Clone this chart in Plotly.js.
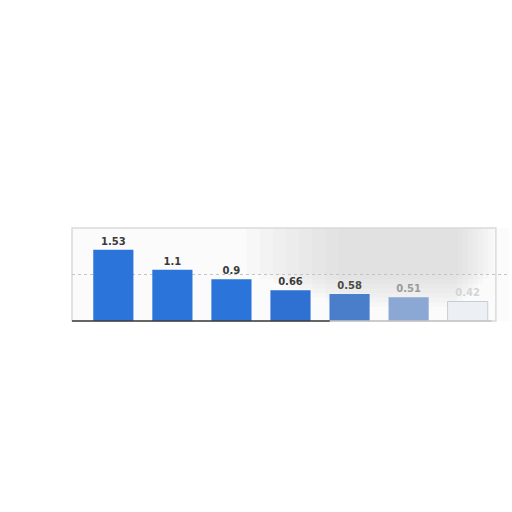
<!DOCTYPE html>
<html>
<head>
<meta charset="utf-8">
<script src="https://cdn.plot.ly/plotly-3.0.1.min.js"></script>
<style>
  html, body { margin: 0; padding: 0; background: #ffffff; }
  #chart { width: 512px; height: 512px; }
</style>
</head>
<body>
<div id="chart"></div>
<script>
// Values
let categories = ["A", "B", "C", "D", "E", "F", "G"];
let values = [1.53, 1.1, 0.9, 0.66, 0.58, 0.51, 0.42];
let value_labels = ["1.53", "1.1", "0.9", "0.66", "0.58", "0.51", "0.42"];

// The right side of the picture is washed out
let bar_cols = ["#2a74da", "#2a74da", "#2a74da", "#2e71d2", "#4a7dca", "#8ba7d4", "#eceff4"];
let label_cols = ["#3a3a3a", "#3a3a3a", "#3a3a3a", "#3a3a3a", "#4a4a4a", "#9a9a9a", "#d4d4d4"];

let data = [{
  type: "bar",
  x: categories,
  y: values,
  text: value_labels,
  textposition: "outside",
  cliponaxis: false,
  textfont: { family: "DejaVu Sans, sans-serif", size: 10, color: label_cols, weight: "bold" },
  hoverinfo: "none",
  marker: {
    color: bar_cols,
    line: { color: ["rgba(0,0,0,0)", "rgba(0,0,0,0)", "rgba(0,0,0,0)", "rgba(0,0,0,0)", "rgba(0,0,0,0)", "rgba(0,0,0,0)", "#c8ccd2"], width: 1 }
  }
}];

// grey haze over the upper right, many faint nested layers so it looks soft
let haze = [];
for (let k = 0; k < 8; k++) {
  haze.push({
    type: "rect", xref: "paper", yref: "paper",
    x0: 0.40 + k * 0.03, x1: 0.965 - k * 0.012,
    y0: 0.50 - k * 0.05, y1: 0.995,
    fillcolor: "#c8c8c8", opacity: 0.07,
    line: { width: 0 },
    layer: "below"
  });
}

let layout = {
  width: 512,
  height: 512,
  margin: { l: 72, r: 3, t: 228, b: 191 },
  paper_bgcolor: "#ffffff",
  plot_bgcolor: "#fbfbfb",
  showlegend: false,
  bargap: 0.32,
  xaxis: {
    range: [-0.7, 6.7],
    showticklabels: false,
    ticks: "",
    showgrid: false,
    zeroline: false,
    showline: false,
    fixedrange: true
  },
  yaxis: {
    range: [0, 2],
    tickvals: [1],
    showticklabels: false,
    ticks: "",
    showgrid: true,
    gridcolor: "#c4c4c4",
    griddash: "dot",
    gridwidth: 1,
    zeroline: false,
    fixedrange: true
  },
  shapes: [
    // soft frame round the plot
    {
      type: "rect", xref: "paper", yref: "paper",
      x0: 0, x1: 0.97, y0: 0, y1: 1,
      line: { color: "#dadada", width: 1.5 },
      layer: "below"
    },
    ...haze,
    // base line, dark on the left and faded on the right
    {
      type: "line", xref: "paper", yref: "paper",
      x0: 0, x1: 0.59, y0: 0, y1: 0,
      line: { color: "#3c3c3c", width: 1.5 }
    },
    {
      type: "line", xref: "paper", yref: "paper",
      x0: 0.59, x1: 0.96, y0: 0, y1: 0,
      line: { color: "#c4c4c4", width: 1.5 }
    }
  ]
};

Plotly.newPlot("chart", data, layout, { displayModeBar: false, staticPlot: true });
</script>
</body>
</html>
